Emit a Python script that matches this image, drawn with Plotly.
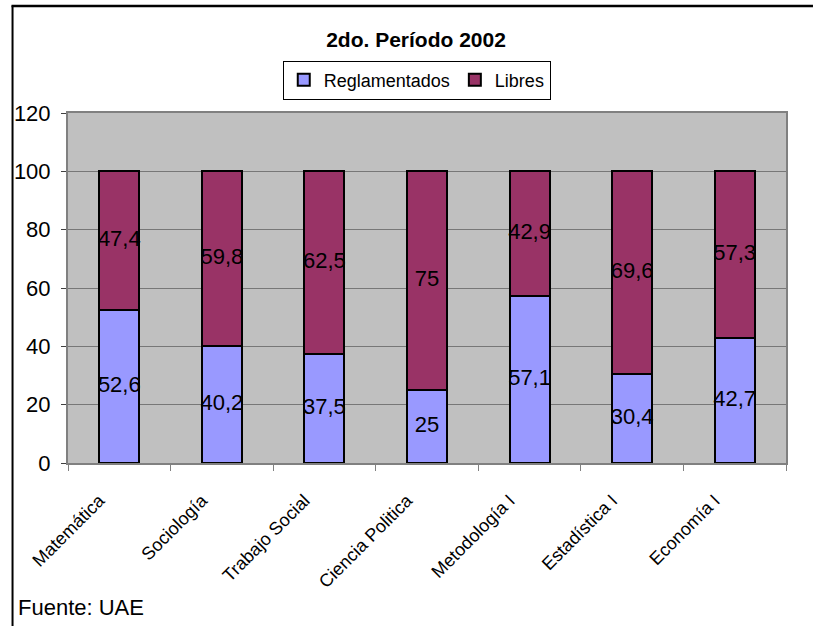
import plotly.graph_objects as go

categories = ["Matemática", "Sociología", "Trabajo Social", "Ciencia Politica",
              "Metodología I", "Estadística I", "Economía I"]
reglamentados = [52.6, 40.2, 37.5, 25, 57.1, 30.4, 42.7]
libres = [47.4, 59.8, 62.5, 75, 42.9, 69.6, 57.3]
y_ticks = [0, 20, 40, 60, 80, 100, 120]

W, H = 814, 626
# plot area in pixel coordinates
L, R, T, B = 67.5, 786, 113.3, 462.7


def px(x):
    return (x - L) / (R - L)


def py(y):
    return (B - y) / (B - T)


def fmt(v):
    return ("%g" % v).replace(".", ",")


FONT = "Liberation Sans, Arial, sans-serif"

fig = go.Figure()
fig.add_trace(go.Bar(name="Reglamentados", x=categories, y=reglamentados,
                     marker=dict(color="#9999FF", line=dict(color="black", width=2)),
                     hoverinfo="skip"))
fig.add_trace(go.Bar(name="Libres", x=categories, y=libres,
                     marker=dict(color="#993366", line=dict(color="black", width=2)),
                     hoverinfo="skip"))

# data labels centred in each segment
fig.add_trace(go.Scatter(x=categories, y=[r / 2 for r in reglamentados],
                         text=[fmt(v) for v in reglamentados], mode="text",
                         textfont=dict(family=FONT, size=22, color="black"),
                         showlegend=False, hoverinfo="skip", cliponaxis=False))
fig.add_trace(go.Scatter(x=categories, y=[r + l / 2 for r, l in zip(reglamentados, libres)],
                         text=[fmt(v) for v in libres], mode="text",
                         textfont=dict(family=FONT, size=22, color="black"),
                         showlegend=False, hoverinfo="skip", cliponaxis=False))

fig.update_layout(
    width=W, height=H,
    barmode="stack", bargap=0.61,
    paper_bgcolor="white", plot_bgcolor="#C0C0C0",
    margin=dict(l=L, r=W - R, t=T, b=H - B, pad=0, autoexpand=False),
    title=dict(text="<b>2do. Período 2002</b>", x=416 / W, xanchor="center",
               y=1 - 40 / H, yanchor="middle", xref="container", yref="container",
               font=dict(family=FONT, size=21, color="black")),
    legend=dict(orientation="h", x=px(416.5), xanchor="center", y=py(61), yanchor="top",
                bordercolor="black", borderwidth=1, bgcolor="white",
                font=dict(family=FONT, size=18, color="black"),
                traceorder="normal", itemwidth=30),
    font=dict(family=FONT, color="black"),
    showlegend=True,
)

fig.update_xaxes(type="category", tickson="boundaries", ticks="outside", ticklen=6,
                 tickcolor="#808080", tickwidth=1, tickangle=-45,
                 tickfont=dict(family=FONT, size=18, color="black"),
                 ticklabelstandoff=18, ticklabelshift=-20,
                 showline=True, linecolor="#808080", linewidth=2, mirror=True,
                 showgrid=False, zeroline=False, automargin=False)
fig.update_yaxes(range=[0, 120], tickvals=y_ticks, ticks="outside", ticklen=5,
                 tickcolor="#404040", tickwidth=1,
                 tickfont=dict(family=FONT, size=22, color="black"),
                 ticklabelstandoff=6,
                 showline=True, linecolor="#808080", linewidth=2, mirror=True,
                 showgrid=True, gridcolor="#777777", gridwidth=1, zeroline=False,
                 automargin=False)

fig.add_annotation(text="Fuente: UAE", xref="paper", yref="paper",
                   x=px(15), y=py(607), xanchor="left", yanchor="middle",
                   showarrow=False, font=dict(family=FONT, size=22, color="black"))

# outer chart border (left and top edges visible)
fig.add_shape(type="line", xref="paper", yref="paper", layer="above",
              x0=px(12), x1=px(12), y0=py(700), y1=py(6),
              line=dict(color="black", width=2))
fig.add_shape(type="line", xref="paper", yref="paper", layer="above",
              x0=px(11), x1=px(813), y0=py(6.5), y1=py(6.5),
              line=dict(color="black", width=2.5))

fig.write_html("out.html", config={"displayModeBar": False},
               post_script="document.body.style.margin='0';")
